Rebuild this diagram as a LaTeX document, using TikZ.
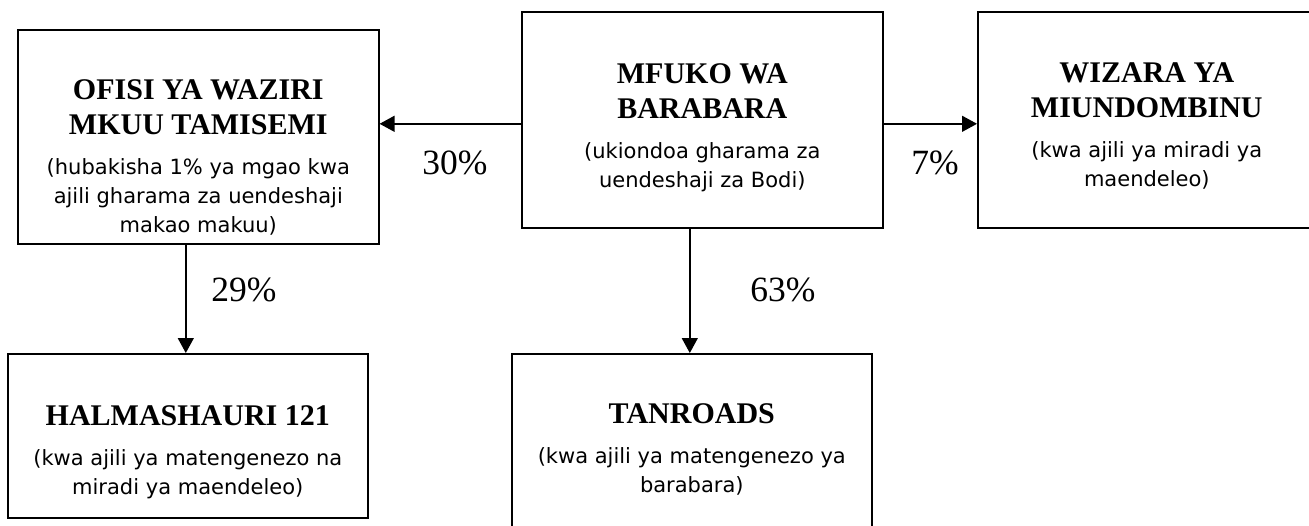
\documentclass[tikz,border=0pt]{standalone}
\usepackage{fontspec}
\setmainfont{Liberation Serif}
\newfontfamily\notefont{DejaVu Sans}
\usepackage{tikz}
\usetikzlibrary{positioning,arrows.meta}

\tikzset{
    box/.style={draw, line width=1.6pt, anchor=north west, inner sep=0pt},
    boxtitle/.style={font=\bfseries\fontsize{30}{35}\selectfont, align=center, inner sep=0pt, anchor=north},
    boxnote/.style={font=\notefont\fontsize{21}{29}\selectfont, align=center, inner sep=0pt},
    share/.style={font=\fontsize{35.5}{40}\selectfont, inner sep=0pt},
    flow/.style={line width=1.4pt, -{Triangle[length=15pt,width=16pt]}}
}

\begin{document}
\begin{tikzpicture}[x=1pt, y=-1pt]

    % Frame
    \useasboundingbox (0, 0) rectangle (1309, 525);

    % Boxes
    \node[box, minimum width=361pt, minimum height=214pt] (ofisi) at (17, 29) {};
    \node[box, minimum width=361pt, minimum height=216pt] (mfuko) at (521, 11) {};
    \node[box, minimum width=400pt, minimum height=216pt] (wizara) at (977, 11) {};
    \node[box, minimum width=360pt, minimum height=164pt] (halmashauri) at (7, 353) {};
    \node[box, minimum width=360pt, minimum height=180pt] (tanroads) at (511, 353) {};

    % Texts
    \node[boxtitle] (ofisi-title) at ([yshift=-50pt]ofisi.north) {OFISI YA WAZIRI\\MKUU TAMISEMI};
    \node[boxnote, below=24pt of ofisi-title] (ofisi-note) {(hubakisha 1\% ya mgao kwa\\ajili gharama za uendeshaji\\makao makuu)};

    \node[boxtitle] (mfuko-title) at ([yshift=-52pt]mfuko.north) {MFUKO WA\\BARABARA};
    \node[boxnote, below=24pt of mfuko-title] (mfuko-note) {(ukiondoa gharama za\\uendeshaji za Bodi)};

    \node[boxtitle] (wizara-title) at ([xshift=-31pt, yshift=-51pt]wizara.north) {WIZARA YA\\MIUNDOMBINU};
    \node[boxnote, below=24pt of wizara-title] (wizara-note) {(kwa ajili ya miradi ya\\maendeleo)};

    \node[boxtitle] (halmashauri-title) at ([yshift=-52pt]halmashauri.north) {HALMASHAURI 121};
    \node[boxnote, below=24pt of halmashauri-title] (halmashauri-note) {(kwa ajili ya matengenezo na\\miradi ya maendeleo)};

    \node[boxtitle] (tanroads-title) at ([yshift=-50pt]tanroads.north) {TANROADS};
    \node[boxnote, below=24pt of tanroads-title] (tanroads-note) {(kwa ajili ya matengenezo ya\\barabara)};

    % Arrows
    \draw[flow] ([yshift=-4pt]mfuko.west) -- ([yshift=-4pt]mfuko.west -| ofisi.east);
    \draw[flow] ([yshift=-4pt]mfuko.east) -- ([yshift=-4pt]mfuko.east -| wizara.west);
    \draw[flow] ([xshift=-2pt]halmashauri.north |- ofisi.south) -- ([xshift=-2pt]halmashauri.north);
    \draw[flow] ([xshift=-2pt]tanroads.north |- mfuko.south) -- ([xshift=-2pt]tanroads.north);

    % Shares
    \node[share] (share-ofisi) at (455, 163) {30\%};
    \node[share] (share-wizara) at (935, 163) {7\%};
    \node[share] (share-halmashauri) at (244, 290) {29\%};
    \node[share] (share-tanroads) at (783, 290) {63\%};

\end{tikzpicture}
\end{document}
